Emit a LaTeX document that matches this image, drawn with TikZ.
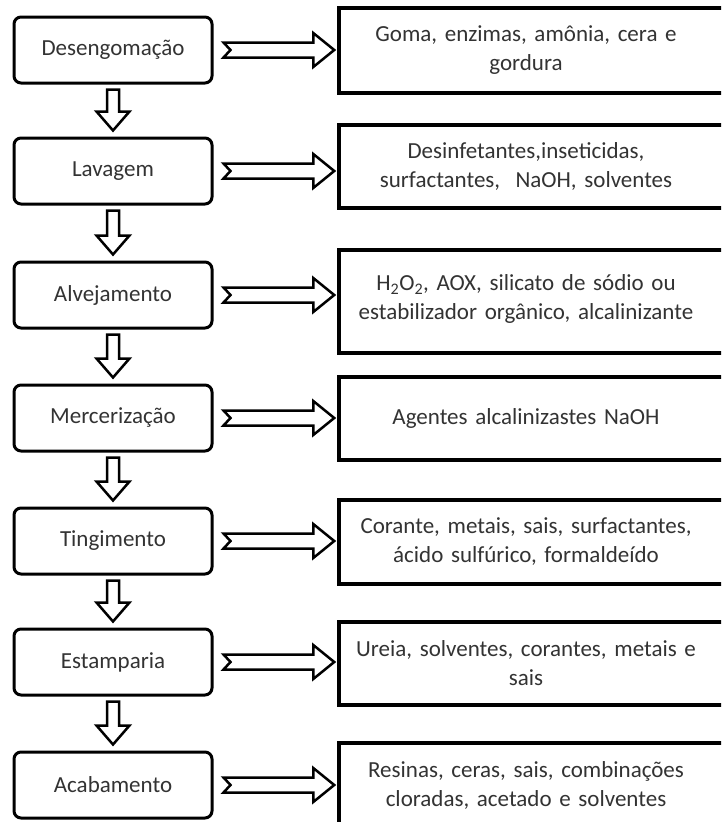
\documentclass[tikz,border=0pt]{standalone}
\usepackage{fontspec}
\setmainfont{Carlito}
\usetikzlibrary{calc}
\newcommand\myharrow[2]{%
  \path ($(#1.east)+(10pt,0)$) coordinate (hs) ($(#1.east -| #2.west)+(-3pt,0)$) coordinate (he);
  \draw[arrowline] let \p1=(hs), \p2=(he) in
    (\x1,\y1+7.5pt) -- (\x2-21pt,\y1+7.5pt) -- (\x2-21pt,\y1+17pt) -- (\x2,\y1)
    -- (\x2-21pt,\y1-17pt) -- (\x2-21pt,\y1-7.5pt) -- (\x1,\y1-7.5pt) -- (\x1+7pt,\y1) -- cycle;}
\newcommand\myvarrow[2]{%
  \path ($(#1.south)+(0,-5pt)$) coordinate (vs) ($(#2.north)+(0,6pt)$) coordinate (ve);
  \draw[arrowline] let \p1=(vs), \p2=(ve) in
    (\x1-6pt,\y1) -- (\x1-6pt,\y2+19pt) -- (\x1-16.5pt,\y2+19pt) -- (\x1,\y2)
    -- (\x1+16.5pt,\y2+19pt) -- (\x1+6pt,\y2+19pt) -- (\x1+6pt,\y1) -- cycle;}
\begin{document}
\begin{tikzpicture}[x=1pt,y=-1pt,
  lbox/.style={draw=black, line width=3pt, rounded corners=7pt, fill=white,
    minimum width=198pt, minimum height=66pt, inner sep=0pt, text=black!80,
    font=\fontsize{23}{29}\selectfont},
  rbox/.style={draw=black, line width=3.5pt, fill=white, minimum width=400pt, inner sep=0pt},
  rtext/.style={text width=372pt, align=center, inner sep=0pt, text=black!80,
    font=\fontsize{23}{29}\selectfont},
  arrowline/.style={draw=black, line width=2.5pt, fill=white, line join=miter}
]
\useasboundingbox (0,0) rectangle (721,822);
\clip (0,0) rectangle (721,822);
\fill[white] (0,0) rectangle (721,822);
% left boxes
\node[lbox] (L1) at (113,50) {Desengomação};
\node[lbox] (L2) at (113,171) {Lavagem};
\node[lbox] (L3) at (113,295) {Alvejamento};
\node[lbox] (L4) at (113,418) {Mercerização};
\node[lbox] (L5) at (113,541) {Tingimento};
\node[lbox] (L6) at (113,662) {Estamparia};
\node[lbox] (L7) at (113,785) {Acabamento};
% right boxes
\node[rbox, minimum height=85pt] (R1) at (539,50.5) {};
\node[rbox, minimum height=83pt] (R2) at (539,166.5) {};
\node[rbox, minimum height=103pt] (R3) at (539,301.5) {};
\node[rbox, minimum height=83pt] (R4) at (539,418.5) {};
\node[rbox, minimum height=84pt] (R5) at (539,542) {};
\node[rbox, minimum height=83pt] (R6) at (539,663.5) {};
\node[rbox, minimum height=88pt] (R7) at (539,787) {};
% right texts
\node[rtext] (T1) at (526,50.5) {Goma, enzimas, amônia, cera e\\gordura};
\node[rtext] (T2) at (526,166.5) {Desinfetantes,inseticidas,\\surfactantes,\ \ NaOH, solventes};
\node[rtext] (T3) at (526,299) {H\textsubscript{2}O\textsubscript{2}, AOX, silicato de sódio ou\\estabilizador orgânico, alcalinizante};
\node[rtext] (T4) at (526,418.5) {Agentes alcalinizastes NaOH};
\node[rtext] (T5) at (526,542) {Corante, metais, sais, surfactantes,\\ácido sulfúrico, formaldeído};
\node[rtext] (T6) at (526,663.5) {Ureia, solventes, corantes, metais e\\sais};
\node[rtext] (T7) at (526,785) {Resinas, ceras, sais, combinações\\cloradas, acetado e solventes};
% arrows
\myharrow{L1}{R1}
\myharrow{L2}{R2}
\myharrow{L3}{R3}
\myharrow{L4}{R4}
\myharrow{L5}{R5}
\myharrow{L6}{R6}
\myharrow{L7}{R7}
\myvarrow{L1}{L2}
\myvarrow{L2}{L3}
\myvarrow{L3}{L4}
\myvarrow{L4}{L5}
\myvarrow{L5}{L6}
\myvarrow{L6}{L7}
\end{tikzpicture}
\end{document}
